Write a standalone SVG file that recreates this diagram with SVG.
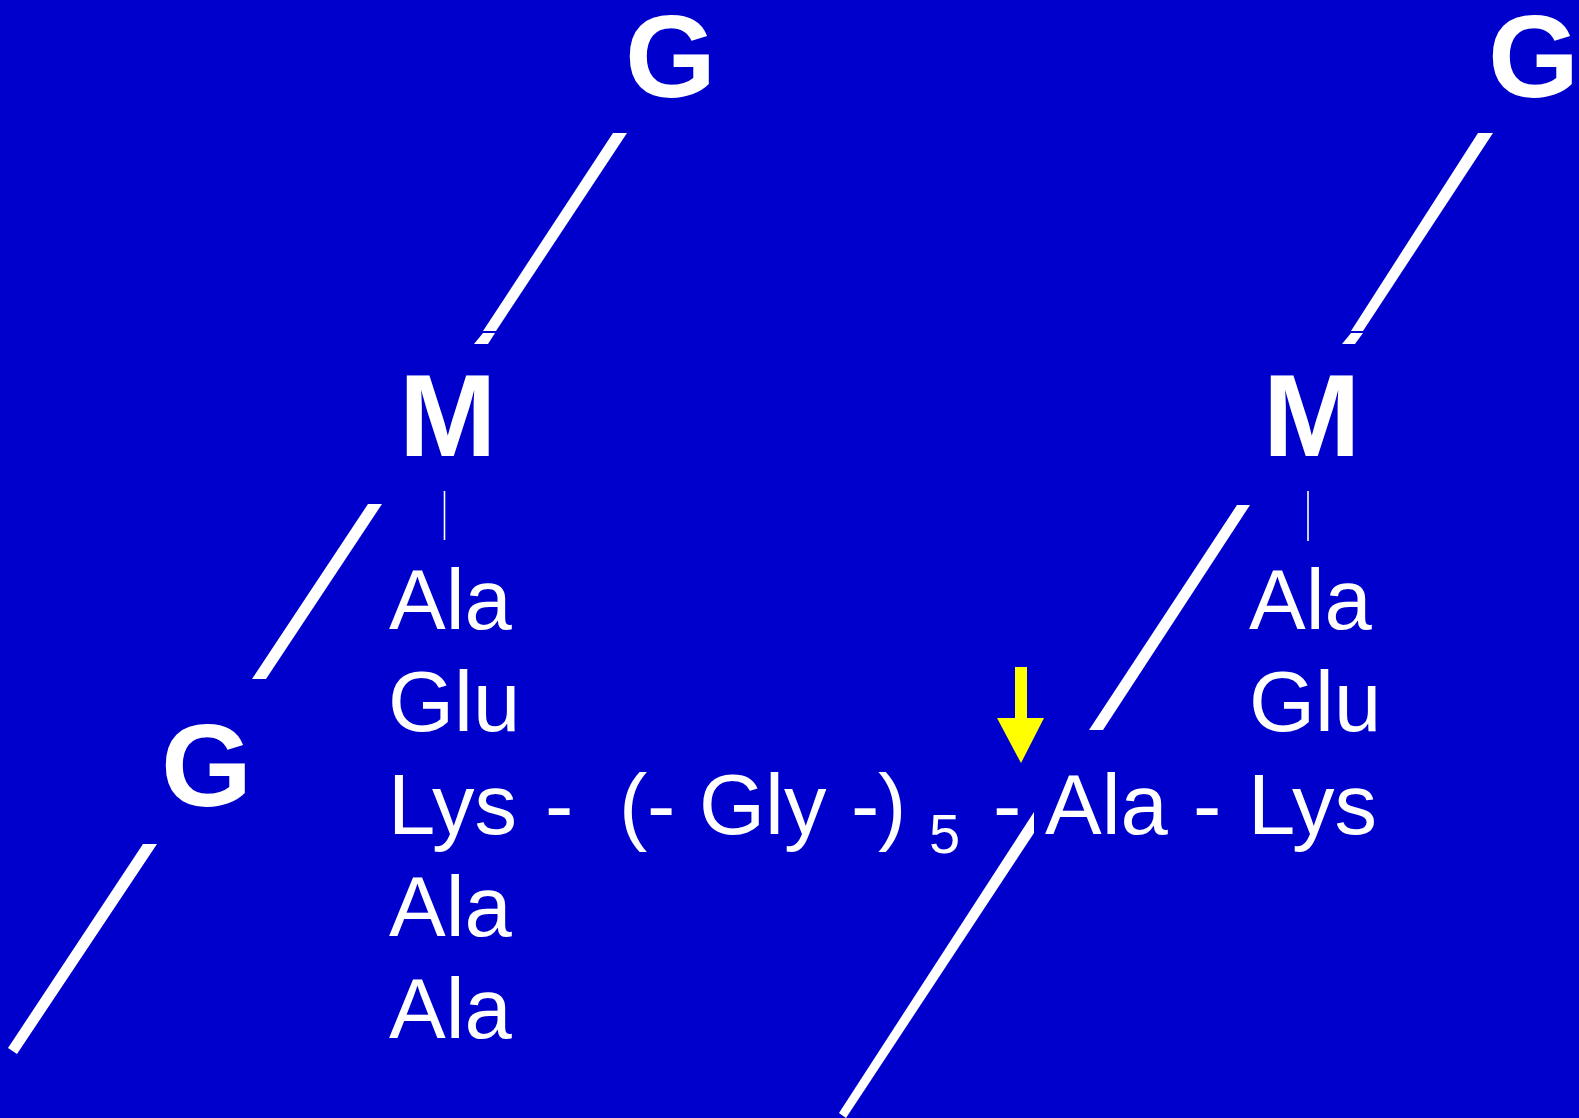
<svg xmlns="http://www.w3.org/2000/svg" width="1579" height="1118" viewBox="0 0 1579 1118">
<style>
.big{font-family:"Liberation Sans",Arial,sans-serif;font-weight:bold;font-size:117px;fill:#fff}
.aa{font-family:"Liberation Sans",Arial,sans-serif;font-size:85px;fill:#fff}
.sub{font-family:"Liberation Sans",Arial,sans-serif;font-size:56px;fill:#fff}
.bond{fill:#fff}
.tick{stroke:#fff;stroke-width:1.6}
</style>
<rect width="1579" height="1118" fill="#0000CC"/>
<g id="connectors">
<polygon class="bond" points="613,133 627,133 496,331 483,331"/>
<polygon class="bond" points="483,333 495,333 488,344 474,344"/>
<polygon class="bond" points="1478,133 1493,133 1363,331 1351,331"/>
<polygon class="bond" points="1351,333 1363,333 1355,344 1342,344"/>
<polygon class="bond" points="368,504 382,504 266,679 252,679"/>
<polygon class="bond" points="1237,505 1250,505 1103,730 1089,730"/>
<polygon class="bond" points="143,844 157,844 17,1054 8,1048"/>
<polygon class="bond" points="1034,812 1034,833 846,1118 839,1113"/>
<line class="tick" x1="444.5" y1="491" x2="444.5" y2="540"/>
<line class="tick" x1="1308" y1="491" x2="1308" y2="541"/>
<g id="arrow" fill="#FFFF00">
<rect x="1015" y="667" width="12" height="52"/>
<polygon points="997,718 1044,718 1021,763"/>
</g>
</g>
<g id="G-top"><text class="big" x="625" y="97">G</text></g>
<g id="G-right"><text class="big" x="1488" y="97">G</text></g>
<g id="G-left"><text class="big" x="161" y="806">G</text></g>
<g id="M-left"><text class="big" x="399" y="456">M</text></g>
<g id="M-right"><text class="big" x="1263" y="456">M</text></g>
<g id="chain-left">
<text class="aa" x="389" y="629">Ala</text>
<text class="aa" x="388" y="731">Glu</text>
<text class="aa" x="389" y="936">Ala</text>
<text class="aa" x="389" y="1038">Ala</text>
</g>
<g id="chain-right">
<text class="aa" x="1249" y="629">Ala</text>
<text class="aa" x="1249" y="731">Glu</text>
</g>
<g id="bridge">
<text class="aa" y="834"><tspan x="388">Lys</tspan><tspan x="545">-</tspan><tspan x="619">(</tspan><tspan x="647">-</tspan><tspan x="699">Gly</tspan><tspan x="851">-</tspan><tspan x="878">)</tspan><tspan x="993">-</tspan><tspan x="1045">Ala</tspan><tspan x="1193">-</tspan><tspan x="1248">Lys</tspan></text>
<text class="sub" x="929" y="853">5</text>
</g>
</svg>
